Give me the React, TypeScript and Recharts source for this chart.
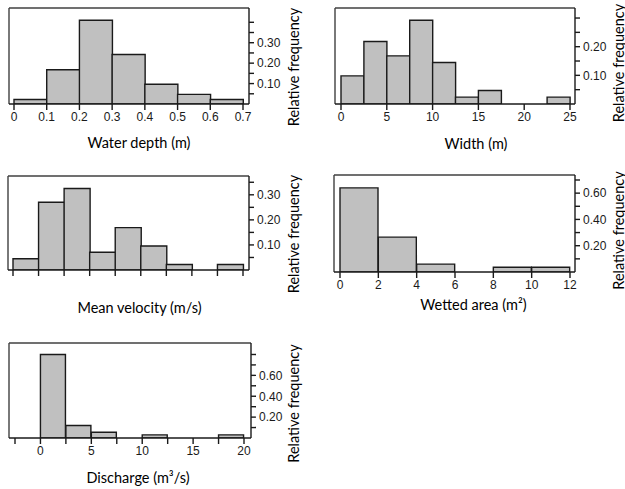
import { BarChart, Bar, XAxis, YAxis, CartesianGrid } from 'recharts'

// --- data (relative frequencies) ---
const depthBins = ['0-0.1', '0.1-0.2', '0.2-0.3', '0.3-0.4', '0.4-0.5', '0.5-0.6', '0.6-0.7']
const depthEdges = [0, 0.1, 0.2, 0.3, 0.4, 0.5, 0.6]
const depthFreq = [0.022, 0.168, 0.41, 0.242, 0.097, 0.047, 0.022]
const depthTicks = [0, 0.1, 0.2, 0.3, 0.4, 0.5, 0.6, 0.7]
const depthTickLabels = ['0', '0.1', '0.2', '0.3', '0.4', '0.5', '0.6', '0.7']

const widthBins = ['0-2.5', '2.5-5', '5-7.5', '7.5-10', '10-12.5', '12.5-15', '15-17.5', '17.5-20', '20-22.5', '22.5-25']
const widthEdges = [0, 2.5, 5, 7.5, 10, 12.5, 15, 17.5, 20, 22.5]
const widthFreq = [0.098, 0.218, 0.168, 0.292, 0.145, 0.024, 0.047, 0, 0, 0.024]
const widthTicks = [0, 5, 10, 15, 20, 25]
const widthTickLabels = ['0', '5', '10', '15', '20', '25']

const velocityBins = ['b1', 'b2', 'b3', 'b4', 'b5', 'b6', 'b7', 'b8', 'b9']
const velocityEdges = [0, 1, 2, 3, 4, 5, 6, 7, 8]
const velocityFreq = [0.045, 0.27, 0.325, 0.071, 0.169, 0.096, 0.022, 0, 0.022]
const velocityTicks = [0, 1, 2, 3, 4, 5, 6, 7, 8, 9]
const velocityTickLabels = ['', '', '', '', '', '', '', '', '', '']

const areaBins = ['0-2', '2-4', '4-6', '6-8', '8-10', '10-12']
const areaEdges = [0, 2, 4, 6, 8, 10]
const areaFreq = [0.64, 0.265, 0.06, 0, 0.036, 0.036]
const areaTicks = [0, 2, 4, 6, 8, 10, 12]
const areaTickLabels = ['0', '2', '4', '6', '8', '10', '12']

const dischargeBins = ['-2.5-0', '0-2.5', '2.5-5', '5-7.5', '7.5-10', '10-12.5', '12.5-15', '15-17.5', '17.5-20']
const dischargeEdges = [-2.5, 0, 2.5, 5, 7.5, 10, 12.5, 15, 17.5]
const dischargeFreq = [0, 0.8, 0.12, 0.055, 0, 0.03, 0, 0, 0.03]
const dischargeTicks = [-2.5, 0, 2.5, 5, 7.5, 10, 12.5, 15, 17.5, 20]
const dischargeTickLabels = ['', '0', '', '5', '', '10', '', '15', '', '20']

const yTicks05 = [0.05, 0.1, 0.15, 0.2, 0.25, 0.3, 0.35, 0.4]
const yLabels05 = ['', '0.10', '', '0.20', '', '0.30', '', '']
const yLabelsWidth = ['', '0.10', '', '0.20', '', '']
const yTicks10 = [0.1, 0.2, 0.3, 0.4, 0.5, 0.6, 0.7, 0.8]
const yLabels10 = ['', '0.20', '', '0.40', '', '0.60', '', '']

const INK = '#1a1a1a'
const FRAME = '#404040'
const BAR = '#c0c0c0'
const TICK_FONT = { fontFamily: 'Liberation Sans, Arial, sans-serif', fontSize: 12, fill: '#1a1a1a' }
const TITLE_FONT = 'Lato, sans-serif'
const TITLE_SIZE = 14.5

interface PanelDef {
  title: string
  bins: string[]
  edges: number[]
  freq: number[]
  xDomain: [number, number]
  xTicks: number[]
  xLabels: string[]
  yTop: number
  yTicks: number[]
  yLabels: string[]
  left: number
  top: number
  right: number
  bottom: number
  pad: { left: number; right: number }
  titleDx: number
  titleDy: number
  yTitleDx: number
  yTitleDy: number
}

const panels: PanelDef[] = [
  {
    title: 'Water depth (m)', bins: depthBins, edges: depthEdges, freq: depthFreq,
    xDomain: [0, 0.7], xTicks: depthTicks, xLabels: depthTickLabels,
    yTop: 0.47, yTicks: yTicks05, yLabels: yLabels05,
    left: 9, top: 8, right: 249, bottom: 104, pad: { left: 5, right: 6 },
    titleDx: 10, titleDy: 38, yTitleDx: 44, yTitleDy: 11,
  },
  {
    title: 'Width (m)', bins: widthBins, edges: widthEdges, freq: widthFreq,
    xDomain: [0, 25], xTicks: widthTicks, xLabels: widthTickLabels,
    yTop: 0.335, yTicks: yTicks05.slice(0, 6), yLabels: yLabelsWidth,
    left: 335, top: 8, right: 575, bottom: 104, pad: { left: 6, right: 5 },
    titleDx: 21, titleDy: 39, yTitleDx: 43, yTitleDy: 7,
  },
  {
    title: 'Mean velocity (m/s)', bins: velocityBins, edges: velocityEdges, freq: velocityFreq,
    xDomain: [0, 9], xTicks: velocityTicks, xLabels: velocityTickLabels,
    yTop: 0.375, yTicks: yTicks05.slice(0, 7), yLabels: yLabels05.slice(0, 7),
    left: 8, top: 176, right: 249, bottom: 270, pad: { left: 5, right: 6 },
    titleDx: 11, titleDy: 37, yTitleDx: 44, yTitleDy: 11,
  },
  {
    title: 'Wetted area (m²)', bins: areaBins, edges: areaEdges, freq: areaFreq,
    xDomain: [0, 12], xTicks: areaTicks, xLabels: areaTickLabels,
    yTop: 0.738, yTicks: yTicks10.slice(0, 7), yLabels: yLabels10.slice(0, 7),
    left: 334, top: 175, right: 575, bottom: 272, pad: { left: 6, right: 5 },
    titleDx: 19, titleDy: 32, yTitleDx: 43, yTitleDy: 7,
  },
  {
    title: 'Discharge (m³/s)', bins: dischargeBins, edges: dischargeEdges, freq: dischargeFreq,
    xDomain: [-2.5, 20], xTicks: dischargeTicks, xLabels: dischargeTickLabels,
    yTop: 0.91, yTicks: yTicks10, yLabels: yLabels10,
    left: 9, top: 343, right: 251, bottom: 438, pad: { left: 6, right: 7 },
    titleDx: 8, titleDy: 39, yTitleDx: 42, yTitleDy: 13,
  },
]

const ML = 4
const MT = 4
const YW = 64
const XH = 56

function Panel({ p }: { p: PanelDef }) {
  const data = p.bins.map((bin, i) => ({ bin, lo: p.edges[i], freq: p.freq[i] }))
  const pw = p.right - p.left
  const ph = p.bottom - p.top

  return (
    <div style={{ position: 'absolute', left: p.left - ML, top: p.top - MT }}>
      <BarChart
        width={ML + pw + YW}
        height={MT + ph + XH}
        data={data}
        margin={{ top: MT, left: ML, right: 0, bottom: 0 }}
        barCategoryGap={0}
        barGap={0}
      >
        {/* left + top edges of the plot frame */}
        <CartesianGrid
          xAxisId="num"
          stroke={FRAME}
          strokeWidth={1.4}
          horizontalCoordinatesGenerator={({ offset }: any) => [offset.top]}
          verticalCoordinatesGenerator={({ offset }: any) => [offset.left]}
        />
        <XAxis
          xAxisId="num"
          dataKey="lo"
          type="number"
          domain={p.xDomain}
          ticks={p.xTicks}
          interval={0}
          allowDataOverflow
          padding={p.pad}
          height={XH}
          stroke={INK}
          strokeWidth={1.4}
          tickSize={6}
          tickMargin={2}
          tick={TICK_FONT}
          tickFormatter={(_v: number, i: number) => p.xLabels[i]}
          label={{
            content: ({ viewBox }: any) => (
              <text
                x={viewBox.x + viewBox.width / 2 + p.titleDx}
                y={viewBox.y + p.titleDy}
                textAnchor="middle"
                dominantBaseline="central"
                fontFamily={TITLE_FONT}
                fontSize={TITLE_SIZE}
                fill="#000"
              >
                {p.title}
              </text>
            ),
          }}
        />
        <XAxis xAxisId="bin" dataKey="bin" orientation="top" hide height={0} padding={p.pad} />
        <YAxis
          orientation="right"
          type="number"
          domain={[0, p.yTop]}
          ticks={p.yTicks}
          interval={0}
          allowDataOverflow
          width={YW}
          stroke={INK}
          strokeWidth={1.4}
          tickSize={5}
          tickMargin={3}
          tick={TICK_FONT}
          tickFormatter={(_v: number, i: number) => p.yLabels[i]}
          label={{
            content: ({ viewBox }: any) => {
              const x = viewBox.x + p.yTitleDx
              const y = viewBox.y + viewBox.height / 2 + p.yTitleDy
              return (
                <text
                  x={x}
                  y={y}
                  transform={`rotate(-90 ${x} ${y})`}
                  textAnchor="middle"
                  dominantBaseline="central"
                  fontFamily={TITLE_FONT}
                  fontSize={TITLE_SIZE}
                  fill="#000"
                >
                  Relative frequency
                </text>
              )
            },
          }}
        />
        <Bar
          xAxisId="bin"
          dataKey="freq"
          fill={BAR}
          stroke={INK}
          strokeWidth={1.4}
          isAnimationActive={false}
        />
      </BarChart>
    </div>
  )
}

export default function App() {
  return (
    <div style={{ position: 'absolute', left: 0, top: 0, width: 625, height: 489, background: '#fff' }}>
      {panels.map((p) => (
        <Panel key={p.title} p={p} />
      ))}
    </div>
  )
}
